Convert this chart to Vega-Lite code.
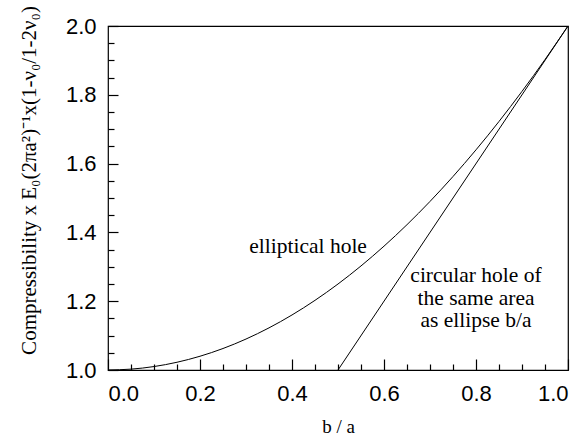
{
  "$schema": "https://vega.github.io/schema/vega-lite/v6.json",
  "width": 460,
  "height": 344,
  "autosize": "none",
  "padding": {"left": 108, "top": 26, "right": 18, "bottom": 71},
  "background": "white",
  "config": {
    "view": {"stroke": "black", "strokeWidth": 1.2},
    "axis": {"grid": false, "domain": false, "tickColor": "black", "labelColor": "black", "titleColor": "black", "tickWidth": 1.2}
  },
  "datasets": {
    "ellipse": [
      {"ba": 0.0, "c": 1.0}, {"ba": 0.05, "c": 1.0025}, {"ba": 0.1, "c": 1.01}, {"ba": 0.15, "c": 1.0225},
      {"ba": 0.2, "c": 1.04}, {"ba": 0.25, "c": 1.0625}, {"ba": 0.3, "c": 1.09}, {"ba": 0.35, "c": 1.1225},
      {"ba": 0.4, "c": 1.16}, {"ba": 0.45, "c": 1.2025}, {"ba": 0.5, "c": 1.25}, {"ba": 0.55, "c": 1.3025},
      {"ba": 0.6, "c": 1.36}, {"ba": 0.65, "c": 1.4225}, {"ba": 0.7, "c": 1.49}, {"ba": 0.75, "c": 1.5625},
      {"ba": 0.8, "c": 1.64}, {"ba": 0.85, "c": 1.7225}, {"ba": 0.9, "c": 1.81}, {"ba": 0.95, "c": 1.9025},
      {"ba": 1.0, "c": 2.0}
    ],
    "circle": [{"ba": 0.5, "c": 1.0}, {"ba": 1.0, "c": 2.0}],
    "labels": [
      {"ba": 0.435, "c": 1.34, "t": "elliptical hole"},
      {"ba": 0.80, "c": 1.256, "t": "circular hole of"},
      {"ba": 0.80, "c": 1.19, "t": "the same area"},
      {"ba": 0.80, "c": 1.125, "t": "as ellipse b/a"}
    ]
  },
  "resolve": {"axis": {"x": "independent", "y": "independent"}},
  "layer": [
    {
      "data": {"name": "ellipse"},
      "mark": {"type": "line", "color": "black", "strokeWidth": 1, "interpolate": "monotone"},
      "encoding": {
        "x": {"field": "ba", "type": "quantitative", "scale": {"domain": [0, 1]},
          "axis": {"values": [0, 0.2, 0.4, 0.6, 0.8, 1.0], "format": ".1f", "ticks": false, "labelPadding": 13,
            "labelFont": "Liberation Sans", "labelFontSize": 22, "title": "b / a", "titleFont": "Liberation Serif",
            "titleFontSize": 19, "titleFontWeight": "normal", "titlePadding": 13}},
        "y": {"field": "c", "type": "quantitative", "scale": {"domain": [1, 2]},
          "axis": {"values": [1.0, 1.2, 1.4, 1.6, 1.8, 2.0], "format": ".1f", "ticks": false, "labelPadding": 12,
            "labelFont": "Liberation Sans", "labelFontSize": 22,
            "title": "Compressibility x E₀(2πa²)⁻¹x(1-ν₀/1-2ν₀)", "titleFont": "Liberation Serif",
            "titleFontSize": 21, "titleFontWeight": "normal", "titlePadding": 26, "titleY": 154}}
      }
    },
    {
      "data": {"name": "circle"},
      "mark": {"type": "line", "color": "black", "strokeWidth": 1},
      "encoding": {
        "x": {"field": "ba", "type": "quantitative", "scale": {"domain": [0, 1]},
          "axis": {"orient": "top", "offset": -344, "values": [0, 0.2, 0.4, 0.6, 0.8, 1.0], "labels": false, "tickSize": 11, "title": null}},
        "y": {"field": "c", "type": "quantitative", "scale": {"domain": [1, 2]},
          "axis": {"orient": "right", "offset": -460, "values": [1.0, 1.2, 1.4, 1.6, 1.8, 2.0], "labels": false, "tickSize": 10, "title": null}}
      }
    },
    {
      "data": {"name": "labels"},
      "mark": {"type": "text", "font": "Liberation Serif", "fontSize": 21.5, "color": "black", "baseline": "alphabetic", "align": "center"},
      "encoding": {
        "x": {"field": "ba", "type": "quantitative",
          "axis": {"orient": "top", "offset": -344, "values": [0.05, 0.1, 0.15, 0.25, 0.3, 0.35, 0.45, 0.5, 0.55, 0.65, 0.7, 0.75, 0.85, 0.9, 0.95], "labels": false, "tickSize": 6, "title": null}},
        "y": {"field": "c", "type": "quantitative",
          "axis": {"orient": "right", "offset": -460, "values": [1.05, 1.1, 1.15, 1.25, 1.3, 1.35, 1.45, 1.5, 1.55, 1.65, 1.7, 1.75, 1.85, 1.9, 1.95], "labels": false, "tickSize": 6, "title": null}},
        "text": {"field": "t"}
      }
    }
  ]
}
